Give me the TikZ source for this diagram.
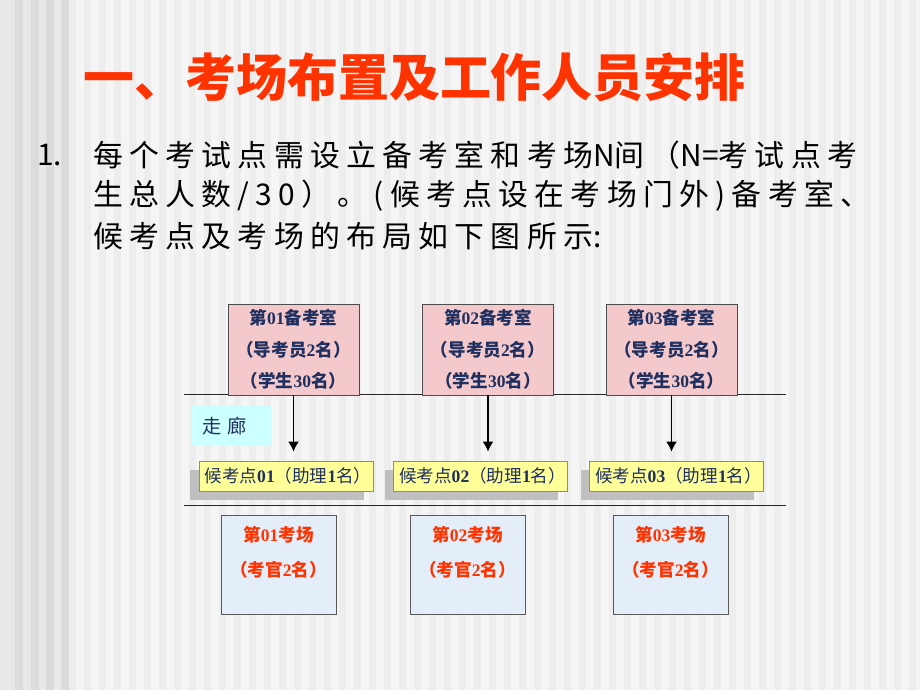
\documentclass[tikz,border=0pt]{standalone}
\usepackage{fontspec}
\setmainfont{Noto Sans CJK SC}
\newfontfamily\bodyfont[LetterSpace=21]{Noto Sans CJK SC}
\newfontfamily\bodylatin{Noto Sans CJK SC}
\newfontfamily\numfont{Liberation Serif}
\usetikzlibrary{positioning,arrows.meta,shadows}
\definecolor{titlered}{HTML}{FF3300}
\definecolor{navy}{HTML}{1F2F5F}
\definecolor{roompink}{HTML}{F3C9CC}
\definecolor{examblue}{HTML}{E3EEF9}
\definecolor{waityellow}{HTML}{FFFF99}
\definecolor{waitblue}{HTML}{6688FF}
\definecolor{hallcyan}{HTML}{CCFFFF}
\newcommand\bnum[1]{{\numfont\bfseries #1}}
\newcommand\lat[1]{{\bodylatin #1}}

\begin{document}
\begin{tikzpicture}[x=0.02cm,y=-0.02cm,
  standby/.style={draw=gray!60!black,fill=roompink,minimum width=2.62cm,minimum height=1.82cm,
    inner sep=0pt,align=center,text=navy,font=\fontsize{10}{18}\selectfont\bfseries},
  waiting/.style={draw=waitblue,fill=waityellow,minimum width=3.48cm,minimum height=0.6cm,inner sep=0pt,
    text=navy,font=\fontsize{10}{10}\selectfont,
    drop shadow={shadow xshift=-0.18cm,shadow yshift=-0.17cm,fill=black!25,opacity=1}},
  exam/.style={draw=gray!70!black,fill=examblue,minimum width=2.3cm,minimum height=1.98cm,inner sep=0pt},
  examtext/.style={align=center,text=titlered,inner sep=0pt,font=\fontsize{10}{20}\selectfont\bfseries},
  hall/.style={fill=hallcyan,text width=1.2cm,inner xsep=0.2cm,minimum height=0.8cm,align=left,
    text=navy,font=\fontsize{11}{11}\selectfont},
  bodytext/.style={anchor=west,inner sep=0pt,font=\bodyfont\fontsize{17}{17}\selectfont},
  arrow/.style={-{Latex[length=2mm,width=2.2mm]},line width=1.1pt,shorten >=0.18cm}]
\useasboundingbox (0,0) rectangle (920,690);
% background stripes
\fill[black!4] (0,0) rectangle (920,690);
\foreach \x in {69,84,...,920} \fill[black!7] (\x,0) rectangle +(7,690);
\fill[black!9] (0,0) rectangle (69,690);
\foreach \x in {15,31,46,61} \fill[black!14] (\x,0) rectangle +(8,690);
% title and text
\node[anchor=west,inner sep=0pt,text=titlered,font=\fontsize{29}{29}\selectfont\bfseries] (title) at (83,77) {一、考场布置及工作人员安排};
\node[bodytext] (item) at (37,155) {\lat{1.}};
\node[bodytext] (line1) at (93,155) {每个考试点需设立备考室和考场\lat{N}间（\lat{N=}考试点考};
\node[bodytext] (line2) at (93,196) {生总人数/30）。(候考点设在考场门外)备考室、};
\node[bodytext] (line3) at (93,236) {候考点及考场的布局如下图所示\lat{:}};
% corridor
\coordinate (topL) at (184,394);
\coordinate (topR) at (786,394);
\coordinate (botL) at (184,505);
\coordinate (botR) at (786,505);
\draw[black!85] (topL) -- (topR);
\draw[black!85] (botL) -- (botR);
\node[hall] (hall) at (232,426) {走\ 廊};
% standby rooms
\node[standby] (room1) at (293.5,349.5) {第\bnum{01}备考室\\（导考员\bnum{2}名）\\（学生\bnum{30}名）};
\node[standby] (room2) at (488,349.5) {第\bnum{02}备考室\\（导考员\bnum{2}名）\\（学生\bnum{30}名）};
\node[standby] (room3) at (671.5,349.5) {第\bnum{03}备考室\\（导考员\bnum{2}名）\\（学生\bnum{30}名）};
% waiting points
\node[waiting] (wait1) at (286,476) {\ 候考点\bnum{01}（助理\bnum{1}名）};
\node[waiting] (wait2) at (480.5,476) {\ 候考点\bnum{02}（助理\bnum{1}名）};
\node[waiting] (wait3) at (676.5,476) {\ 候考点\bnum{03}（助理\bnum{1}名）};
\foreach \i in {1,2,3}
  \draw[arrow] (room\i.south) -- (room\i.south |- wait\i.north);
% exam rooms
\node[exam] (exam1) at (278.5,564.5) {};
\node[exam] (exam2) at (467.5,564.5) {};
\node[exam] (exam3) at (670.5,564.5) {};
\foreach \i in {1,2,3}
  \node[examtext] (examlabel\i) at ([yshift=0.24cm]exam\i.center) {第\bnum{0\i}考场\\（考官\bnum{2}名）};
\end{tikzpicture}
\end{document}
